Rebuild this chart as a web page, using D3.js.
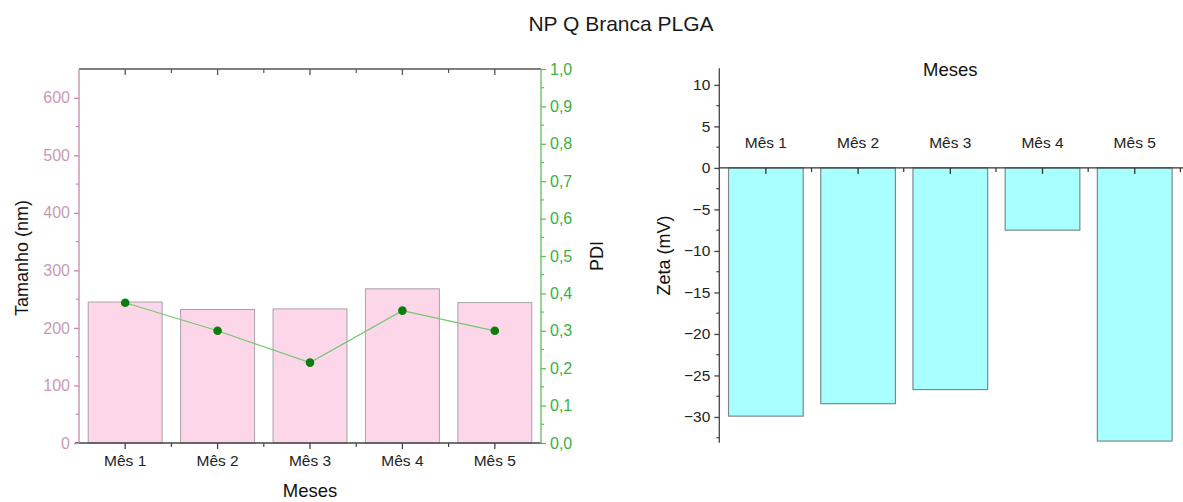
<!DOCTYPE html>
<html>
<head>
<meta charset="utf-8">
<script src="https://cdn.jsdelivr.net/npm/d3@7"></script>
<style>
  html, body { margin: 0; padding: 0; background: #fff; }
  svg { display: block; font-family: "Liberation Sans", Arial, sans-serif; }
</style>
</head>
<body>
<svg id="chart" width="1183" height="502"></svg>
<script>
// Monthly measurements for the blank PLGA nanoparticles
const months = ["Mês 1", "Mês 2", "Mês 3", "Mês 4", "Mês 5"];
const sizeNm = [245, 232, 233, 268, 244];
const pdi = [0.375, 0.300, 0.215, 0.354, 0.300];
const zetaMv = [-29.9, -28.4, -26.7, -7.5, -32.9];

const sizeTicks = [0, 100, 200, 300, 400, 500, 600];
const pdiTicks = [0, 0.1, 0.2, 0.3, 0.4, 0.5, 0.6, 0.7, 0.8, 0.9, 1.0];
const zetaTicks = [10, 5, 0, -5, -10, -15, -20, -25, -30];

const svg = d3.select("#chart");
const fmtComma = v => v.toFixed(1).replace(".", ",");
const fmtMinus = v => (v < 0 ? "\u2212" + Math.abs(v) : String(v));

// Title
svg.append("text")
  .attr("x", 621).attr("y", 31)
  .attr("text-anchor", "middle")
  .attr("font-size", 21).attr("fill", "#1a1a1a")
  .text("NP Q Branca PLGA");

// ---------- Left panel: size bars + PDI line ----------
const L = { x0: 79, x1: 541, y0: 69, y1: 443 };
const xL = d3.scaleBand().domain(months).range([L.x0, L.x1]).paddingInner(0.2).paddingOuter(0.1);
const ySize = d3.scaleLinear().domain([0, 650]).range([L.y1, L.y0]);
const yPdi = d3.scaleLinear().domain([0, 1]).range([L.y1, L.y0]);

const left = svg.append("g");

left.selectAll("rect.size")
  .data(months)
  .join("rect")
  .attr("class", "size")
  .attr("x", d => xL(d))
  .attr("width", xL.bandwidth())
  .attr("y", (d, i) => ySize(sizeNm[i]))
  .attr("height", (d, i) => ySize(0) - ySize(sizeNm[i]))
  .attr("fill", "#fdd6ea")
  .attr("stroke", "#a9a2a6")
  .attr("stroke-width", 1);

const pdiLine = d3.line()
  .x((d, i) => xL(months[i]) + xL.bandwidth() / 2)
  .y(d => yPdi(d));
left.append("path")
  .datum(pdi)
  .attr("d", pdiLine)
  .attr("fill", "none")
  .attr("stroke", "#74c874")
  .attr("stroke-width", 1.2);
left.selectAll("circle.pdi")
  .data(pdi)
  .join("circle")
  .attr("class", "pdi")
  .attr("cx", (d, i) => xL(months[i]) + xL.bandwidth() / 2)
  .attr("cy", d => yPdi(d))
  .attr("r", 4.3)
  .attr("fill", "#0a7d0a");

// Boundaries between categories for minor ticks
const stepL = xL.step();
const boundsL = d3.range(6).map(i => L.x0 + i * stepL);

// Bottom axis
const bottomL = left.append("g").attr("transform", `translate(0,${L.y1})`)
  .call(d3.axisBottom(xL).tickSize(6).tickPadding(6));
bottomL.select(".domain").attr("stroke", "#444").attr("stroke-width", 1.3)
  .attr("d", `M${L.x0 - 4},0H${L.x1}`);
bottomL.selectAll(".tick line").attr("stroke", "#444").attr("stroke-width", 1.3);
bottomL.selectAll(".tick text").attr("font-size", 15.5).attr("fill", "#222")
  .attr("font-family", "Liberation Sans, Arial, sans-serif");
bottomL.selectAll("line.minor").data(boundsL.slice(1, 5)).join("line")
  .attr("class", "minor").attr("x1", d => d).attr("x2", d => d)
  .attr("y1", 0).attr("y2", 4).attr("stroke", "#444").attr("stroke-width", 1.2);

// Top frame line with inward ticks
const topL = left.append("g");
topL.append("line").attr("x1", L.x0).attr("x2", L.x1).attr("y1", L.y0).attr("y2", L.y0)
  .attr("stroke", "#555").attr("stroke-width", 1.3);
topL.selectAll("line.maj").data(months).join("line").attr("class", "maj")
  .attr("x1", d => xL(d) + xL.bandwidth() / 2).attr("x2", d => xL(d) + xL.bandwidth() / 2)
  .attr("y1", L.y0).attr("y2", L.y0 + 6).attr("stroke", "#555").attr("stroke-width", 1.3);
topL.selectAll("line.min").data(boundsL.slice(1, 5)).join("line").attr("class", "min")
  .attr("x1", d => d).attr("x2", d => d)
  .attr("y1", L.y0).attr("y2", L.y0 + 4).attr("stroke", "#555").attr("stroke-width", 1.2);

// Left size axis (mauve)
const sizeColor = "#c08aa8";
const leftAxis = left.append("g").attr("transform", `translate(${L.x0},0)`)
  .call(d3.axisLeft(ySize).tickValues(sizeTicks).tickSize(5).tickPadding(4));
leftAxis.select(".domain").attr("stroke", sizeColor).attr("stroke-width", 1.3)
  .attr("d", `M0,${L.y1}V${L.y0}`);
leftAxis.selectAll(".tick line").attr("stroke", sizeColor).attr("stroke-width", 1.3);
leftAxis.selectAll(".tick text").attr("font-size", 16).attr("fill", "#c999b4")
  .attr("font-family", "Liberation Sans, Arial, sans-serif");
leftAxis.selectAll("line.minor").data(d3.range(50, 650, 100)).join("line")
  .attr("class", "minor").attr("x1", -3).attr("x2", 0)
  .attr("y1", d => ySize(d)).attr("y2", d => ySize(d))
  .attr("stroke", sizeColor).attr("stroke-width", 1.2);

// Right PDI axis (green)
const pdiColor = "#3bb043";
const rightAxis = left.append("g").attr("transform", `translate(${L.x1},0)`)
  .call(d3.axisRight(yPdi).tickValues(pdiTicks).tickFormat(fmtComma).tickSize(5).tickPadding(4));
rightAxis.select(".domain").attr("stroke", "#5cbf5c").attr("stroke-width", 1.3)
  .attr("d", `M0,${L.y1}V${L.y0}`);
rightAxis.selectAll(".tick line").attr("stroke", "#5cbf5c").attr("stroke-width", 1.3);
rightAxis.selectAll(".tick text").attr("font-size", 16).attr("fill", pdiColor)
  .attr("font-family", "Liberation Sans, Arial, sans-serif");
rightAxis.selectAll("line.minor").data(d3.range(0.05, 1, 0.1)).join("line")
  .attr("class", "minor").attr("x1", 0).attr("x2", 3)
  .attr("y1", d => yPdi(d)).attr("y2", d => yPdi(d))
  .attr("stroke", "#5cbf5c").attr("stroke-width", 1.2);

// Axis titles
left.append("text")
  .attr("transform", `translate(28,${(L.y0 + L.y1) / 2 + 2}) rotate(-90)`)
  .attr("text-anchor", "middle").attr("font-size", 18).attr("fill", "#111")
  .text("Tamanho (nm)");
left.append("text")
  .attr("transform", `translate(603,${(L.y0 + L.y1) / 2}) rotate(-90)`)
  .attr("text-anchor", "middle").attr("font-size", 18).attr("fill", "#111")
  .text("PDI");
left.append("text")
  .attr("x", (L.x0 + L.x1) / 2).attr("y", 497)
  .attr("text-anchor", "middle").attr("font-size", 18.5).attr("fill", "#111")
  .text("Meses");

// ---------- Right panel: zeta potential ----------
const R = { x0: 719.3, x1: 1181.3, y0: 68.3, y1: 442.7 };
const xR = d3.scaleBand().domain(months).range([R.x0, R.x1]).paddingInner(0.19).paddingOuter(0.1);
const yZeta = d3.scaleLinear().domain([-33.1, 12]).range([R.y1, R.y0]);
const right = svg.append("g");

right.selectAll("rect.zeta")
  .data(months)
  .join("rect")
  .attr("class", "zeta")
  .attr("x", d => xR(d))
  .attr("width", xR.bandwidth())
  .attr("y", (d, i) => yZeta(Math.max(0, zetaMv[i])))
  .attr("height", (d, i) => Math.abs(yZeta(zetaMv[i]) - yZeta(0)))
  .attr("fill", "#a8ffff")
  .attr("stroke", "#7d8a8a")
  .attr("stroke-width", 1.2);

// Category axis sitting on the zero line, labels above
const stepR = xR.step();
const boundsR = d3.range(6).map(i => R.x0 + i * stepR);
const zeroAxis = right.append("g").attr("transform", `translate(0,${yZeta(0)})`)
  .call(d3.axisTop(xR).tickSize(0).tickPadding(20));
zeroAxis.select(".domain").attr("stroke", "#333").attr("stroke-width", 1.4)
  .attr("d", `M${R.x0},0H${R.x1 + 2}`);
zeroAxis.selectAll(".tick text").attr("font-size", 15.5).attr("fill", "#222")
  .attr("font-family", "Liberation Sans, Arial, sans-serif");
zeroAxis.selectAll("line.maj").data(months).join("line").attr("class", "maj")
  .attr("x1", d => xR(d) + xR.bandwidth() / 2).attr("x2", d => xR(d) + xR.bandwidth() / 2)
  .attr("y1", 0).attr("y2", 6).attr("stroke", "#333").attr("stroke-width", 1.3);
zeroAxis.selectAll("line.min").data(boundsR.slice(1)).join("line").attr("class", "min")
  .attr("x1", d => d).attr("x2", d => d)
  .attr("y1", 0).attr("y2", 4).attr("stroke", "#333").attr("stroke-width", 1.2);

// Zeta value axis
const zAxis = right.append("g").attr("transform", `translate(${R.x0},0)`)
  .call(d3.axisLeft(yZeta).tickValues(zetaTicks).tickFormat(fmtMinus).tickSize(5).tickPadding(4));
zAxis.select(".domain").attr("stroke", "#444").attr("stroke-width", 1.3)
  .attr("d", `M0,${R.y1}V${R.y0}`);
zAxis.selectAll(".tick line").attr("stroke", "#444").attr("stroke-width", 1.3);
zAxis.selectAll(".tick text").attr("font-size", 15.5).attr("fill", "#222")
  .attr("font-family", "Liberation Sans, Arial, sans-serif");
zAxis.selectAll("line.minor").data(d3.range(-32.5, 12, 5)).join("line")
  .attr("class", "minor").attr("x1", -3).attr("x2", 0)
  .attr("y1", d => yZeta(d)).attr("y2", d => yZeta(d))
  .attr("stroke", "#444").attr("stroke-width", 1.2);

right.append("text")
  .attr("x", (R.x0 + R.x1) / 2).attr("y", 76)
  .attr("text-anchor", "middle").attr("font-size", 18.5).attr("fill", "#111")
  .text("Meses");
right.append("text")
  .attr("transform", `translate(670,${(R.y0 + R.y1) / 2}) rotate(-90)`)
  .attr("text-anchor", "middle").attr("font-size", 18).attr("fill", "#111")
  .text("Zeta (mV)");
</script>
</body>
</html>
